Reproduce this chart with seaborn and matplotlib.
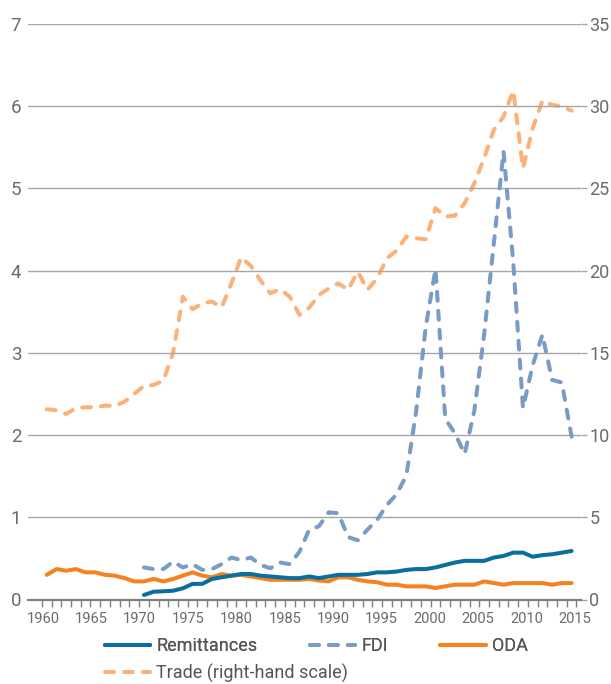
import numpy as np
import pandas as pd
import seaborn as sns
import matplotlib.pyplot as plt
from matplotlib import font_manager

# values (% of GDP)
years = list(range(1960, 2015))
years_70 = list(range(1970, 2015))

trade = [11.57, 11.51, 11.28, 11.65, 11.69, 11.69, 11.79, 11.77, 12.03, 12.50,
         12.99, 13.05, 13.31, 15.0, 18.42, 17.65, 18.02, 18.12, 17.77, 19.23,
         20.81, 20.29, 19.40, 18.62, 18.87, 18.42, 17.31, 17.74, 18.52, 18.91,
         19.23, 18.83, 19.94, 18.83, 19.54, 20.75, 21.22, 22.07, 21.97, 21.91,
         23.80, 23.29, 23.35, 24.10, 25.32, 26.84, 28.56, 29.37, 30.95, 26.23,
         28.66, 30.34, 30.08, 29.98, 29.73]

oda = [0.30, 0.37, 0.35, 0.37, 0.33, 0.33, 0.30, 0.29, 0.26, 0.22,
       0.22, 0.25, 0.22, 0.25, 0.29, 0.33, 0.29, 0.27, 0.31, 0.29,
       0.30, 0.28, 0.26, 0.24, 0.24, 0.24, 0.24, 0.25, 0.23, 0.22,
       0.27, 0.27, 0.24, 0.22, 0.21, 0.18, 0.18, 0.16, 0.16, 0.16,
       0.14, 0.16, 0.18, 0.18, 0.18, 0.22, 0.20, 0.18, 0.20, 0.20,
       0.20, 0.20, 0.18, 0.20, 0.20]

fdi = [0.39, 0.37, 0.37, 0.46, 0.39, 0.43, 0.36, 0.37, 0.43, 0.51,
       0.48, 0.51, 0.42, 0.38, 0.45, 0.43, 0.58, 0.85, 0.89, 1.06,
       1.05, 0.76, 0.72, 0.85, 0.97, 1.15, 1.28, 1.51, 2.28, 3.32,
       4.02, 2.20, 2.02, 1.77, 2.30, 3.22, 4.33, 5.45, 4.10, 2.33,
       2.85, 3.22, 2.67, 2.64, 1.98]

remit = [0.055, 0.095, 0.10, 0.107, 0.136, 0.19, 0.19, 0.25, 0.27, 0.29,
         0.31, 0.31, 0.29, 0.28, 0.27, 0.26, 0.26, 0.28, 0.26, 0.28,
         0.30, 0.30, 0.30, 0.31, 0.33, 0.33, 0.34, 0.36, 0.37, 0.37,
         0.39, 0.42, 0.45, 0.47, 0.47, 0.47, 0.51, 0.53, 0.57, 0.57,
         0.52, 0.54, 0.55, 0.57, 0.59]

label_years = list(range(1960, 2016, 5))

df_all = pd.DataFrame({"year": years, "trade": trade, "oda": oda})
df_70 = pd.DataFrame({"year": years_70, "fdi": fdi, "remit": remit})

c_remit = "#0a6f9c"
c_fdi = "#7a9cc4"
c_oda = "#f5821f"
c_trade = "#fbb27a"
grid_c = "#a6a6a6"
text_c = "#6b6b6b"

sns.set_style("white")
names = {f.name for f in font_manager.fontManager.ttflist}
narrow = "Liberation Sans Narrow" if "Liberation Sans Narrow" in names else "Roboto"
plt.rcParams["font.family"] = [narrow, "DejaVu Sans"]

fig = plt.figure(figsize=(6.11, 6.84), dpi=100)
ax = fig.add_axes([28.3 / 611, 84.5 / 684, (581 - 28.3) / 611, (599.5 - 24) / 684])
ax2 = ax.twinx()

lw = 2.9
dash = (0, (2.2, 2.5))
line_kw = dict(solid_capstyle="round", dash_capstyle="round", solid_joinstyle="round")

sns.lineplot(data=df_all, x="year", y="trade", ax=ax2, color=c_trade, lw=lw,
             ls=dash, label="Trade (right-hand scale)", **line_kw)
sns.lineplot(data=df_70, x="year", y="fdi", ax=ax, color=c_fdi, lw=lw,
             ls=dash, label="FDI", **line_kw)
sns.lineplot(data=df_all, x="year", y="oda", ax=ax, color=c_oda, lw=lw,
             label="ODA", **line_kw)
sns.lineplot(data=df_70, x="year", y="remit", ax=ax, color=c_remit, lw=lw,
             label="Remittances", **line_kw)

# trade line sits behind the left-axis lines in the reference, so swap z-order
ax.set_zorder(ax2.get_zorder() + 1)
ax.patch.set_visible(False)

for a in (ax, ax2):
    if a.get_legend() is not None:
        a.get_legend().remove()
    a.set_xlabel("")
    a.set_ylabel("")
    for s in ("top", "left", "right", "bottom"):
        a.spines[s].set_visible(False)

ax.set_xlim(1958.1, 2014.97)
ax.set_ylim(0, 7)
ax2.set_ylim(0, 35)
ax.set_yticks(range(0, 8))
ax2.set_yticks(range(0, 36, 5))

ax.yaxis.grid(True, color=grid_c, lw=1.0)
ax.set_axisbelow(True)
ax.tick_params(axis="y", length=0, pad=5, labelsize=13.5, labelcolor=text_c)
ax2.tick_params(axis="y", length=4, width=1.0, color=grid_c, pad=2,
                labelsize=13, labelcolor=text_c)

# bottom axis line and yearly tick marks between categories
ax.spines["bottom"].set_visible(True)
ax.spines["bottom"].set_color("#7f7f7f")
ax.spines["bottom"].set_linewidth(1.6)
ax.set_xticks(np.linspace(1959.6, 2014.35, len(label_years)))
ax.set_xticklabels([str(y) for y in label_years])
ax.set_xticks(np.arange(1959.5, 2015, 1), minor=True)
ax.tick_params(axis="x", which="major", length=0, pad=9, labelsize=10.5,
               labelcolor=text_c)
ax.tick_params(axis="x", which="minor", length=5, width=1.0, color="#7f7f7f",
               bottom=True)

handles = {l.get_label(): l for l in ax.get_lines() + ax2.get_lines()}
leg_kw = dict(frameon=False, fontsize=13, handlelength=2.5, handletextpad=0.35,
              borderpad=0, borderaxespad=0, labelcolor="#555555", loc="center left")
leg1 = fig.legend([handles["Remittances"], handles["FDI"], handles["ODA"]],
                  ["Remittances", "FDI", "ODA"], ncol=3, columnspacing=2.9,
                  bbox_to_anchor=(105 / 611, 1 - 646 / 684), **leg_kw)
leg2 = fig.legend([handles["Trade (right-hand scale)"]], ["Trade (right-hand scale)"],
                  bbox_to_anchor=(105 / 611, 1 - 673 / 684), **leg_kw)
fig.add_artist(leg1)

fig.savefig("out.png", dpi=100)
